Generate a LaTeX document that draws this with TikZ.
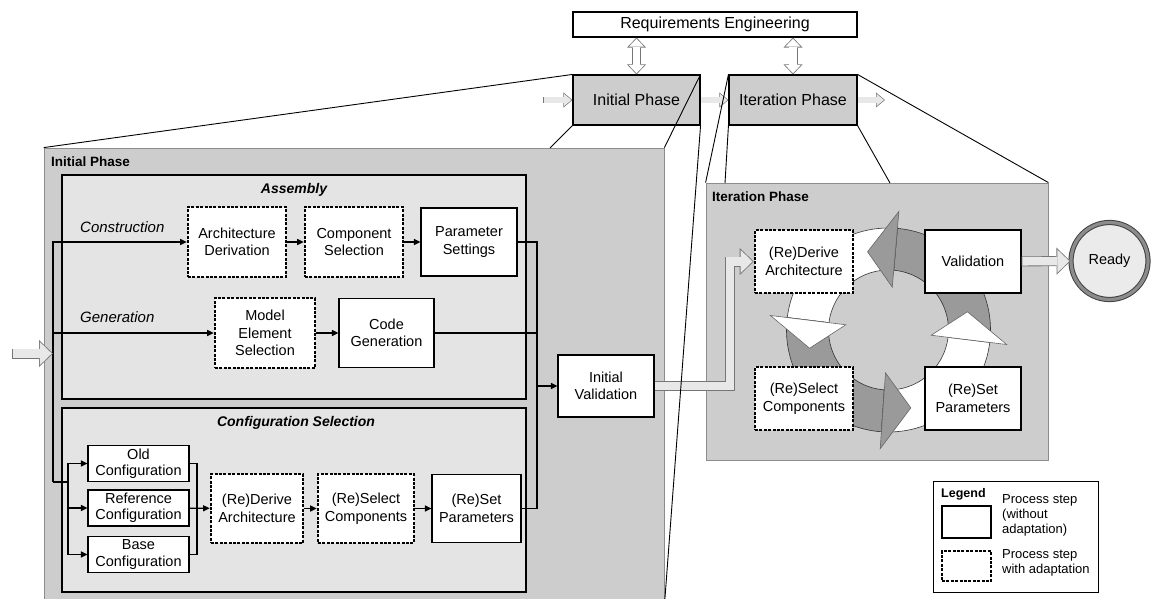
\documentclass[tikz,border=0pt]{standalone}
\usepackage{fontspec}
\setmainfont{Liberation Sans}
\usetikzlibrary{arrows.meta, positioning}

\definecolor{panelgray}{HTML}{CDCDCD}
\definecolor{groupgray}{HTML}{E4E4E4}
\definecolor{edgegray}{HTML}{8C8C8C}
\definecolor{ringdark}{HTML}{9A9A9A}
\definecolor{hollowfill}{HTML}{E8E8E8}
\definecolor{hollowline}{HTML}{767676}

\tikzset{
  proc/.style={draw, fill=white, line width=1.1pt, align=center, inner sep=0pt,
    font=\fontsize{14.5}{17.5}\selectfont, minimum width=98pt, minimum height=68pt},
  adapt/.style={proc, line width=2.6pt, dash pattern=on 3pt off 1.4pt},
  config/.style={proc, minimum width=101pt, minimum height=36pt, font=\fontsize{14.5}{16.5}\selectfont},
  phase/.style={draw, fill=panelgray, line width=1.1pt, inner sep=0pt,
    font=\fontsize{16}{19}\selectfont, minimum width=127pt, minimum height=50pt},
  panel/.style={draw=edgegray, fill=panelgray, line width=0.8pt, inner sep=0pt},
  group/.style={draw, fill=groupgray, line width=1.1pt, inner sep=0pt},
  panellabel/.style={font=\bfseries\fontsize{13.5}{16}\selectfont, inner sep=0pt},
  grouplabel/.style={font=\bfseries\itshape\fontsize{14}{16}\selectfont, inner sep=0pt},
  pathlabel/.style={font=\itshape\fontsize{15}{17}\selectfont, inner sep=0pt},
  legtext/.style={font=\fontsize{13}{15}\selectfont, align=left, inner sep=0pt},
  ready/.style={circle, draw=black!75, line width=1pt, double=black!45, double distance=3.2pt,
    fill=black!8, minimum size=77pt, inner sep=0pt, font=\fontsize{14.5}{17}\selectfont},
  flow/.style={line width=1.1pt, -{Triangle[length=6.5pt 0 0, width=6pt 0 0]}},
  proj/.style={line width=0.9pt},
  widehollow/.style={draw=hollowfill, line width=8.4pt, line join=miter,
    -{Triangle[length=12pt 0 0, width=23.2pt 0 0, line width=0pt 0 0]},
    shorten >=1.2pt, shorten <=0.8pt,
    preaction={draw=hollowline, line width=10pt, shorten >=0pt, shorten <=0pt,
      -{Triangle[length=14pt 0 0, width=27pt 0 0, line width=0pt 0 0]}}},
  thinhollow/.style={draw=hollowfill, line width=5.1pt, line join=miter,
    -{Triangle[length=7.2pt 0 0, width=12pt 0 0, line width=0pt 0 0]},
    shorten >=1.1pt, shorten <=0.7pt,
    preaction={draw=hollowline, line width=6.5pt, shorten >=0pt, shorten <=0pt,
      -{Triangle[length=9pt 0 0, width=15pt 0 0, line width=0pt 0 0]}}},
  vhollow/.style={draw=white, line width=7.4pt, line join=miter,
    {Triangle[length=8pt 0 0, width=15.3pt 0 0, line width=0pt 0 0]}-{Triangle[length=8pt 0 0, width=15.3pt 0 0, line width=0pt 0 0]},
    shorten >=1.2pt, shorten <=1.2pt,
    preaction={draw=hollowline, line width=9pt, shorten >=0pt, shorten <=0pt,
      {Triangle[length=10pt 0 0, width=19pt 0 0, line width=0pt 0 0]}-{Triangle[length=10pt 0 0, width=19pt 0 0, line width=0pt 0 0]}}},
}

\begin{document}
\begin{tikzpicture}[x=1pt, y=-1pt, node distance=117pt, on grid]
  \useasboundingbox (0,0) rectangle (1154,599);

  % overview
  \node[proc, minimum width=284pt, minimum height=25pt, font=\fontsize{16}{19}\selectfont] (re) at (715,24.5) {Requirements Engineering};
  \node[phase] (ip) at (636.5,100) {Initial Phase};
  \node[phase, minimum width=128pt] (itp) at (793,100) {Iteration Phase};

  % zoomed panels
  \node[panel, minimum width=620pt, minimum height=457pt] (ipanel) at (354,376.5) {};
  \node[panel, minimum width=342pt, minimum height=277pt] (itpanel) at (877,321.5) {};
  \node[panellabel, anchor=west] (iplabel) at (51,162) {Initial Phase};
  \node[panellabel, anchor=west] (itlabel) at (712,197) {Iteration Phase};

  % assembly
  \node[group, minimum width=464pt, minimum height=224pt] (asm) at (294,287) {};
  \node[grouplabel] (asmlabel) at (294,190) {Assembly};
  \node[pathlabel, anchor=west] (constr) at (80,227) {Construction};
  \node[pathlabel, anchor=west] (gener) at (80,317) {Generation};
  \node[adapt, minimum height=70pt] (ad) at (237,242) {Architecture\\Derivation};
  \node[adapt, minimum height=70pt, right=of ad] (cs) {Component\\Selection};
  \node[proc, minimum width=96pt, right=115pt of cs] (ps) {Parameter\\Settings};
  \node[adapt, minimum width=100pt, minimum height=70pt] (mes) at (265,333) {Model\\Element\\Selection};
  \node[proc, minimum width=95pt, minimum height=69pt, right=121.5pt of mes] (cg) {Code\\Generation};

  % configuration selection
  \node[group, minimum width=464pt, minimum height=184pt] (cfg) at (294,500) {};
  \node[grouplabel] (cfglabel) at (296,423) {Configuration Selection};
  \node[config] (old) at (138.5,463.5) {Old\\Configuration};
  \node[config, below=44.5pt of old] (ref) {Reference\\Configuration};
  \node[config, below=46.5pt of ref] (base) {Base\\Configuration};
  \node[adapt, minimum width=92pt, minimum height=69pt] (rda) at (257,508.5) {(Re)Derive\\Architecture};
  \node[adapt, minimum width=96pt, minimum height=69pt, right=109pt of rda] (rsc) {(Re)Select\\Components};
  \node[proc, minimum width=89pt, right=110.5pt of rsc] (rsp) {(Re)Set\\Parameters};

  \node[proc, minimum width=96pt, minimum height=62pt] (iv) at (606,386) {Initial\\Validation};

  % cycle of the iteration phase
  \begin{scope}[shift={(888.5,330)}]
    \fill[panelgray] (0,0) circle[radius=60pt];
    \foreach \from/\to/\tone in {-7/85/ringdark, 85/173/white, 173/266/ringdark, 266/353/white}
      \filldraw[fill=\tone, draw=black!80, line width=0.6pt]
        (\from:60pt) -- (\from:102pt) arc[start angle=\from, end angle=\to, radius=102pt]
        -- (\to:60pt) arc[start angle=\to, end angle=\from, radius=60pt] -- cycle;
    \foreach \at/\tone in {85/ringdark, 173/white, 266/ringdark, 353/white}
      \filldraw[fill=\tone, draw=black!60, line width=0.6pt]
        (\at:43pt) -- (\at:119pt) -- (\at+20:81pt) -- cycle;
  \end{scope}

  \node[adapt, minimum height=63pt] (rda2) at (804,261.5) {(Re)Derive\\Architecture};
  \node[proc, minimum width=96pt, minimum height=63pt, right=169pt of rda2] (val) {Validation};
  \node[adapt, minimum height=63pt, below=137pt of rda2] (rsc2) {(Re)Select\\Components};
  \node[proc, minimum width=96pt, minimum height=63pt, right=169pt of rsc2] (rsp2) {(Re)Set\\Parameters};
  \node[ready] (done) at (1109.5,261) {Ready};

  % legend
  \node[draw, line width=1pt, fill=white, minimum width=165pt, minimum height=111pt] (legend) at (1015.5,536.5) {};
  \node[font=\bfseries\fontsize{12.5}{15}\selectfont, anchor=west, inner sep=0pt] (legtitle) at (941,494) {Legend};
  \node[proc, minimum width=49pt, minimum height=32pt] (legproc) at (966.5,522) {};
  \node[adapt, minimum width=49pt, minimum height=30pt] (legadapt) at (966.5,566) {};
  \node[legtext, anchor=west] (legproctext) at (1002,515) {Process step\\(without\\adaptation)};
  \node[legtext, anchor=west] (legadapttext) at (1002,563) {Process step\\with adaptation};

  \coordinate (split) at (53,482);
  \coordinate (fork) at (68,482);
  \coordinate (cmerge) at (197,508);
  \coordinate (amerge) at (537,386);
  \coordinate (entry) at (12,353.5);
  \coordinate (trunkin) at (53,353.5);
  \coordinate (start) at (543,100);
  \coordinate (next) at (885,100);
  \coordinate (ipcut) at (550,148);
  \coordinate (itcutl) at (725,183);
  \coordinate (itcutr) at (890,183);

  % flows inside the initial phase
  \draw[flow] (split) |- (ad);
  \draw[flow] (split) |- (mes);
  \draw[line width=1.1pt] (split) -- (fork);
  \draw[flow] (fork) |- (old);
  \draw[flow] (fork) |- (ref);
  \draw[flow] (fork) |- (base);
  \draw[flow] (ad) -- (cs);
  \draw[flow] (cs) -- (ps);
  \draw[flow] (mes) -- (cg);
  \draw[line width=1.1pt] (old) -| (cmerge);
  \draw[line width=1.1pt] (base) -| (cmerge);
  \draw[flow] (ref) -- (rda);
  \draw[flow] (rda) -- (rsc);
  \draw[flow] (rsc) -- (rsp);
  \draw[line width=1.1pt] (ps) -| (amerge);
  \draw[line width=1.1pt] (cg) -| (amerge);
  \draw[line width=1.1pt] (rsp) -| (amerge);
  \draw[flow] (amerge) -- (iv);

  % hollow arrows
  \draw[widehollow] (entry) -- (trunkin);
  \draw[widehollow] (iv.east) -- ++(75.5,0) |- (rda2);
  \draw[widehollow] (val) -- (done);
  \draw[thinhollow] (start) -- (ip);
  \draw[thinhollow] (ip) -- (itp);
  \draw[thinhollow] (itp) -- (next);
  \draw[vhollow] (re.south -| ip) -- (ip);
  \draw[vhollow] (re.south -| itp) -- (itp);

  % zoom lines
  \draw[proj] (ip.north west) -- (ipanel.north west);
  \draw[proj] (ip.north east) -- (ipanel.north east);
  \draw[proj] (ip.south west) -- (ipcut);
  \draw[proj] (ip.south east) -- (ipanel.south east);
  \draw[proj] (itp.north west) -- (itpanel.north west);
  \draw[proj] (itp.south west) -- (itcutl);
  \draw[proj] (itp.south east) -- (itcutr);
  \draw[proj] (itp.north east) -- (itpanel.north east);
\end{tikzpicture}
\end{document}
